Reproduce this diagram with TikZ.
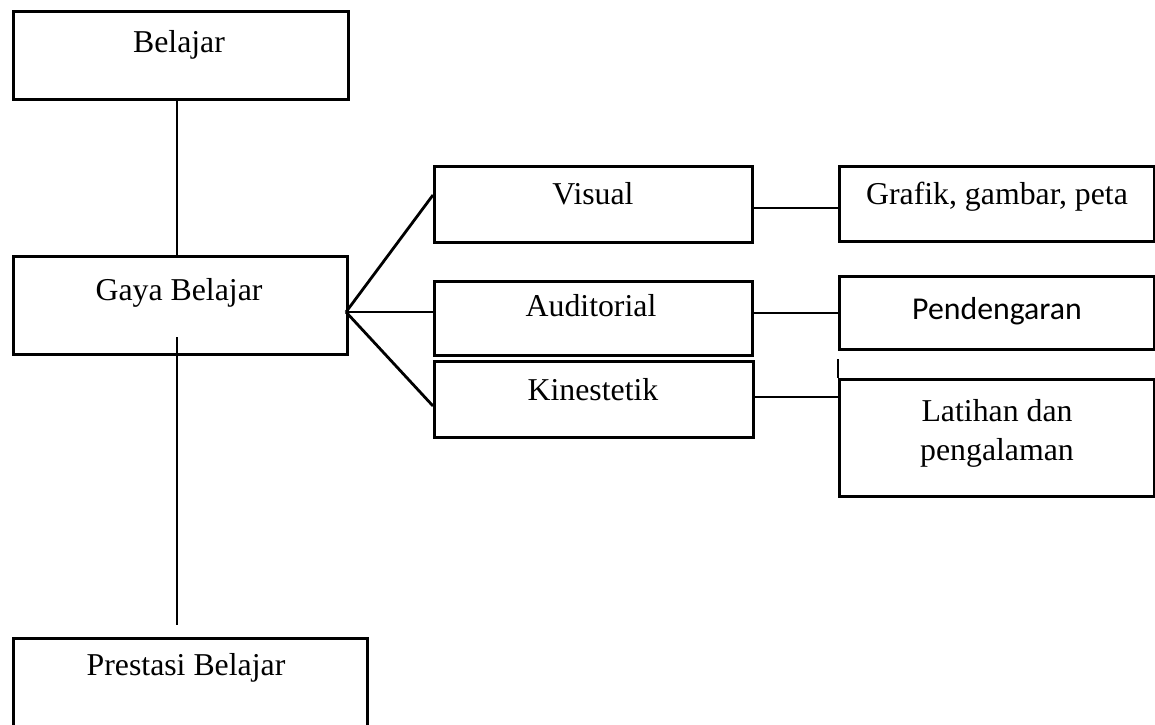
\documentclass[tikz,border=0pt]{standalone}
\usepackage{fontspec}
\setmainfont{Liberation Serif}
\newfontfamily\calib{Carlito}
\begin{document}
\begin{tikzpicture}[x=1pt,y=-1pt,
  box/.style={draw=black, line width=2.8pt, rectangle, inner sep=0pt, anchor=north west},
  lbl/.style={font=\fontsize{31.8}{38}\selectfont, inner sep=0pt, anchor=base},
  conn/.style={line width=2.8pt}]
\useasboundingbox (0,0) rectangle (1155,724);
\clip (0,0) rectangle (1155,724);
\fill[white] (0,0) rectangle (1155,724);
% boxes
\node[box, minimum width=335pt, minimum height=88pt] (bel) at (12,10) {};
\node[box, minimum width=334pt, minimum height=98pt] (gaya) at (12,255) {};
\node[box, minimum width=354pt, minimum height=130pt] (pres) at (12,637) {};
\node[box, minimum width=318pt, minimum height=76pt] (vis) at (433,165) {};
\node[box, minimum width=318pt, minimum height=74pt] (aud) at (433,280) {};
\node[box, minimum width=319pt, minimum height=76pt] (kin) at (433,360) {};
\node[box, minimum width=315pt, minimum height=75pt] (graf) at (838,165) {};
\node[box, minimum width=315pt, minimum height=73pt] (pend) at (838,275) {};
\node[box, minimum width=315pt, minimum height=117pt] (lat) at (838,378) {};
% texts
\node[lbl] (tbel) at (179,52) {Belajar};
\node[lbl] (tgaya) at (179,300) {Gaya Belajar};
\node[lbl] (tpres) at (186,675) {Prestasi Belajar};
\node[lbl] (tvis) at (593,204) {Visual};
\node[lbl] (taud) at (591,316) {Auditorial};
\node[lbl] (tkin) at (593,400) {Kinestetik};
\node[lbl] (tgraf) at (997,204) {Grafik, gambar, peta};
\node[lbl, font=\calib\fontsize{31.8}{38}\selectfont] (tpend) at (997,319) {Pendengaran};
\node[lbl] (tlat1) at (997,421) {Latihan dan};
\node[lbl] (tlat2) at (997,460) {pengalaman};
% connectors
\coordinate (g1) at (177,337);
\coordinate (p1) at (177,625);
\coordinate (gj) at (346,312);
\draw[conn] (bel.south -| g1) -- (gaya.north -| g1);
\draw[conn] (g1) -- (p1);
\draw[conn] (gj) -- ([yshift=-30pt]vis.north west);
\draw[conn] (gj) -- ([yshift=-32pt]aud.north west);
\draw[conn] (gj) -- ([yshift=-46pt]kin.north west);
\draw[conn] ([yshift=-43pt]vis.north east) -- ([yshift=-43pt]vis.north east -| graf.west);
\draw[conn] ([yshift=-33pt]aud.north east) -- ([yshift=-33pt]aud.north east -| pend.west);
\draw[conn] ([yshift=-37pt]kin.north east) -- ([yshift=-37pt]kin.north east -| lat.west);
\draw[conn] (lat.north west) -- ([yshift=19pt]lat.north west);
\end{tikzpicture}
\end{document}
